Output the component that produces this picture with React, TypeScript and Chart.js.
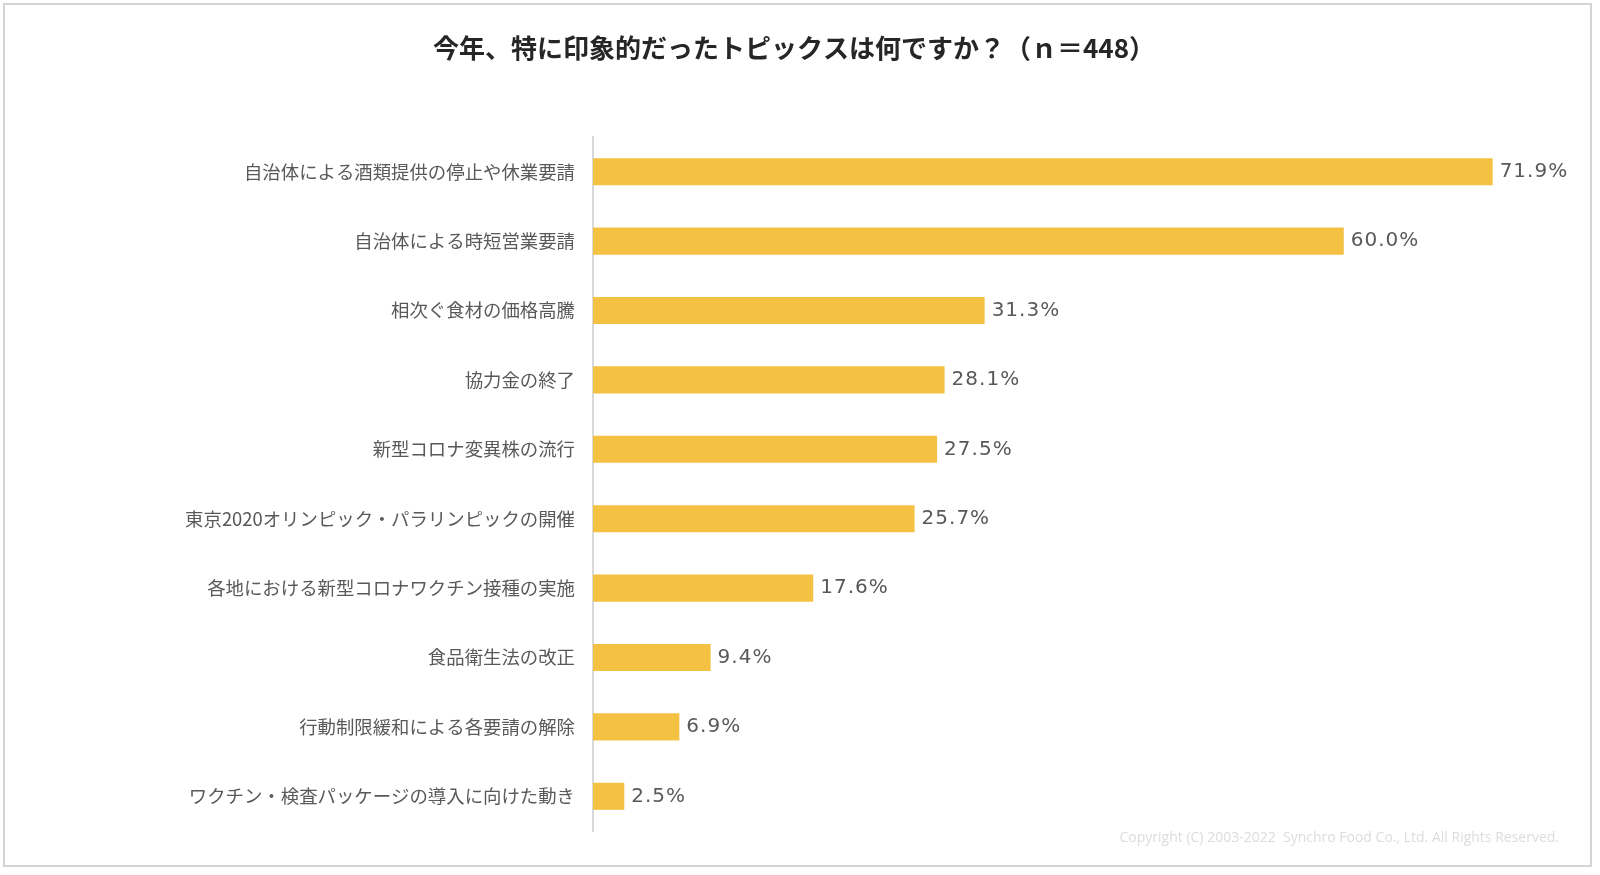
import React, { useEffect, useRef } from "react";
import { Chart, registerables } from "chart.js";

Chart.register(...registerables);

const titleText = "今年、特に印象的だったトピックスは何ですか？（ｎ＝448）";
const copyrightText = "Copyright (C) 2003-2022  Synchro Food Co., Ltd. All Rights Reserved.";
const categories = [
  "自治体による酒類提供の停止や休業要請",
  "自治体による時短営業要請",
  "相次ぐ食材の価格高騰",
  "協力金の終了",
  "新型コロナ変異株の流行",
  "東京2020オリンピック・パラリンピックの開催",
  "各地における新型コロナワクチン接種の実施",
  "食品衛生法の改正",
  "行動制限緩和による各要請の解除",
  "ワクチン・検査パッケージの導入に向けた動き",
];
const values = [71.9, 60.0, 31.3, 28.1, 27.5, 25.7, 17.6, 9.4, 6.9, 2.5];

const W = 1600;
const H = 875;

const decor = {
  id: "decor",
  beforeDraw(chart: any) {
    const ctx = chart.ctx;
    ctx.save();
    ctx.fillStyle = "#ffffff";
    ctx.fillRect(0, 0, W, H);
    ctx.strokeStyle = "#d4d4d4";
    ctx.lineWidth = 2;
    ctx.strokeRect(4, 4, 1587, 862);
    ctx.fillStyle = "#262626";
    ctx.font = "bold 26px 'Noto Sans CJK JP'";
    ctx.textAlign = "center";
    ctx.textBaseline = "middle";
    ctx.fillText(titleText, 794, 48);
    ctx.fillStyle = "#dcdcdc";
    ctx.font = "14px 'Open Sans'";
    ctx.textAlign = "right";
    ctx.fillText(copyrightText, 1559, 838);
    ctx.restore();
  },
  afterDatasetsDraw(chart: any) {
    const ctx = chart.ctx;
    const meta = chart.getDatasetMeta(0);
    ctx.save();
    ctx.fillStyle = "#595959";
    ctx.font = "20px 'DejaVu Sans'";
    (ctx as any).letterSpacing = "1px";
    ctx.textAlign = "left";
    ctx.textBaseline = "middle";
    meta.data.forEach((bar: any, i: number) => {
      ctx.fillText(values[i].toFixed(1) + "%", bar.x + 7, bar.y);
    });
    ctx.restore();
  },
};

export default function App() {
  const ref = useRef<HTMLCanvasElement>(null);
  useEffect(() => {
    if (!ref.current) return;
    const chart = new Chart(ref.current, {
      type: "bar",
      data: {
        labels: categories,
        datasets: [
          {
            data: values,
            backgroundColor: "#F4C143",
            borderWidth: 0,
            barPercentage: 0.39,
            categoryPercentage: 1,
          },
        ],
      },
      options: {
        indexAxis: "y",
        responsive: false,
        animation: false,
        devicePixelRatio: 1,
        layout: { padding: { top: 137, bottom: 44, left: 0, right: 6 } },
        plugins: {
          legend: { display: false },
          tooltip: { enabled: false },
          title: { display: false },
        },
        scales: {
          x: {
            display: false,
            min: 0,
            max: 80,
          },
          y: {
            afterFit(s: any) {
              s.width = 593;
            },
            grid: { display: false, drawTicks: false },
            border: { display: true, color: "#d9d9d9", width: 2 },
            ticks: {
              padding: 18,
              color: "#595959",
              font: { family: "'Noto Sans CJK JP'", size: 18.4 },
            },
          },
        },
      },
      plugins: [decor],
    });
    return () => chart.destroy();
  }, []);
  return (
    <div style={{ position: "fixed", left: 0, top: 0, width: W, height: H, background: "#fff" }}>
      <canvas ref={ref} width={W} height={H} />
    </div>
  );
}
